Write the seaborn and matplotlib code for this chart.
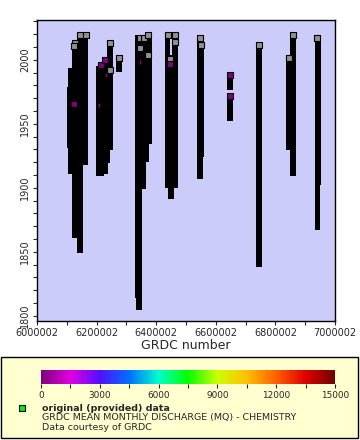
import numpy as np
import pandas as pd
import seaborn as sns
import matplotlib
matplotlib.use("Agg")
from matplotlib import pyplot as plt
from matplotlib.colors import LinearSegmentedColormap
from matplotlib.patches import Rectangle
from matplotlib.ticker import MultipleLocator

# station records: GRDC number, first and last year of data
station_ids = [6111000, 6112000, 6126000, 6144000, 6163000,
               6208000, 6216000, 6228000, 6237000, 6245000, 6275000,
               6339000, 6342000, 6357000, 6368000, 6376000,
               6438000, 6450000, 6463000,
               6547000, 6550000, 6648000, 6648000,
               6745000, 6844000, 6859000, 6941000, 6943000]
start_years = [1931, 1911, 1861, 1849, 1918,
               1909.5, 1909.5, 1911, 1919, 1929.5, 1990.4,
               1814, 1804.5, 1899, 1920, 1934,
               1899.8, 1891, 1899.8,
               1907, 1924, 1976.3, 1952,
               1838, 1929.5, 1909, 1867, 1902]
end_years = [1979, 1993.5, 2015.4, 2021.6, 2021.6,
             1995, 1997.4, 2002.1, 2000, 2015.4, 2003.7,
             2019.3, 2017, 2019.3, 2005, 2021.6,
             2020.9, 2004, 2020.9,
             2019.3, 2013.8, 1990.4, 1974,
             2013.8, 2002.9, 2021.6, 2019.3, 2019]

# last samples (grey) and discharge-coloured samples (purple)
grey_x = [6126000, 6124000, 6144000, 6163000, 6245000, 6245000, 6275000,
          6344000, 6359000, 6344000, 6374000, 6374000,
          6438000, 6463000, 6463000, 6446000,
          6547000, 6550000, 6745000, 6844000, 6859000, 6941000]
grey_y = [2013, 2011, 2019.5, 2019.5, 2013.2, 1991.6, 2001.5,
          2017, 2017, 2009, 2019.5, 2003.7,
          2019, 2019, 2014, 2000.5,
          2017.3, 2011.6, 2011.6, 2001, 2019.5, 2017]
purple_x = [6124000, 6216000, 6228000, 6446000, 6648000, 6648000]
purple_y = [1965.4, 1995.5, 2000, 1996.6, 1988.4, 1972]
thin_x = [6208000, 6345600, 6230000]
thin_y = [1965, 1998, 1988]

cbar_ticks = [0, 3000, 6000, 9000, 12000, 15000]
odv_colors = ["#800080", "#e000e0", "#5010ff", "#0070ff", "#00ffcc", "#00ff00",
              "#ccff00", "#ffc000", "#ff6000", "#e00000", "#700000"]

stations = pd.DataFrame({"grdc": station_ids, "start": start_years, "end": end_years})
grey = pd.DataFrame({"grdc": grey_x, "year": grey_y})
purple = pd.DataFrame({"grdc": purple_x, "year": purple_y})

sns.set_style("ticks")
plt.rcParams["font.family"] = ["DejaVu Sans"]

fig = plt.figure(figsize=(3.6, 4.4), dpi=100)
ax = fig.add_axes([37 / 360, 1 - 321 / 440, 298 / 360, 301 / 440])
ax.set_facecolor("#ccccfa")

# station coverage bars
ax.bar(stations["grdc"], stations["end"] - stations["start"], bottom=stations["start"],
       width=19000, color="black", linewidth=0, zorder=2)

sns.scatterplot(data=grey, x="grdc", y="year", marker="s", s=18, color="#909090",
                edgecolor="black", linewidth=0.8, ax=ax, zorder=3)
sns.scatterplot(data=purple, x="grdc", y="year", marker="s", s=18, color="#800080",
                edgecolor="black", linewidth=0.8, ax=ax, zorder=3)
ax.scatter(thin_x, thin_y, marker="|", s=12, color="#900090", linewidth=1, zorder=3)

ax.set_xlim(6000002, 7000002)
ax.set_ylim(1796, 2031)
ax.xaxis.set_minor_locator(MultipleLocator(100000))
ax.set_xticks([6000002 + 200000 * i for i in range(6)])
ax.set_xticklabels([str(6000002 + 200000 * i) for i in range(6)])
ax.yaxis.set_major_locator(MultipleLocator(50))
ax.yaxis.set_minor_locator(MultipleLocator(10))
ax.tick_params(axis="both", which="both", direction="out", length=3, width=0.8,
               labelsize=7, pad=2)
for lbl in ax.get_yticklabels():
    lbl.set_rotation(90)
    lbl.set_va("center")
ax.set_xlabel("GRDC number", fontsize=9, labelpad=1)
ax.set_ylabel("")
for sp in ax.spines.values():
    sp.set_linewidth(1.0)
    sp.set_color("black")
    sp.set_visible(True)

# legend panel
fig.patches.append(Rectangle((1 / 360, 2 / 440), 357 / 360, 81 / 440, transform=fig.transFigure,
                             facecolor="#ffffd0", edgecolor="black", linewidth=1.0, zorder=-1))

cmap = LinearSegmentedColormap.from_list("odv", odv_colors)
cax = fig.add_axes([41 / 360, 1 - 384 / 440, 294 / 360, 14 / 440])
cax.set_zorder(2)
sm = plt.cm.ScalarMappable(cmap=cmap, norm=plt.Normalize(0, 15000))
cb = fig.colorbar(sm, cax=cax, orientation="horizontal", ticks=cbar_ticks)
cb.outline.set_visible(False)
cb.ax.xaxis.set_minor_locator(MultipleLocator(1500))
cb.ax.tick_params(which="both", direction="out", length=3, width=0.8, labelsize=6.4, pad=2)

fig.add_artist(Rectangle((19 / 360, 1 - 411 / 440), 6 / 360, 6 / 440, transform=fig.transFigure,
                         facecolor="#00ee00", edgecolor="black", linewidth=0.8, zorder=3))
fig.text(42 / 360, 1 - 408 / 440, "original (provided) data", fontsize=6.8,
         fontweight="bold", va="center")
fig.text(42 / 360, 1 - 417 / 440, "GRDC MEAN MONTHLY DISCHARGE (MQ) - CHEMISTRY",
         fontsize=6.8, va="center")
fig.text(42 / 360, 1 - 427 / 440, "Data courtesy of GRDC", fontsize=6.8, va="center")

fig.savefig("out.png", dpi=100, facecolor="white")
